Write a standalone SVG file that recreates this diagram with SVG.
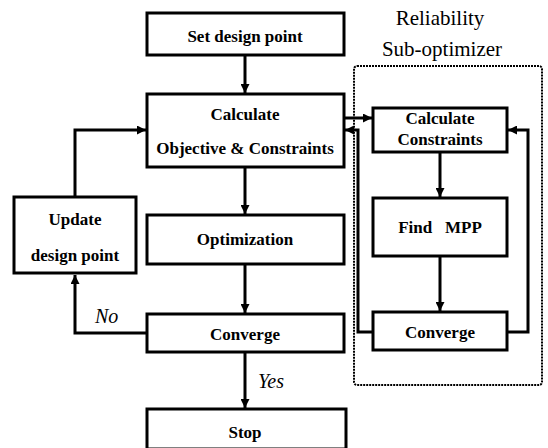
<svg xmlns="http://www.w3.org/2000/svg" width="548" height="448" viewBox="0 0 548 448">
<style>
.box{fill:#fff;stroke:#000;stroke-width:3}
text{font-family:"Liberation Serif","DejaVu Serif","Times New Roman",serif;fill:#000}
.t{font-weight:bold;font-size:17px;text-anchor:middle}
.lbl{font-style:italic;font-size:20px}
.title{font-size:21px;text-anchor:middle}
.c{fill:none;stroke:#000;stroke-width:3}
.dash{fill:none;stroke:#000;stroke-width:2;stroke-dasharray:2 1}
</style>
<defs>
<marker id="ah" viewBox="0 0 10 10" refX="10" refY="5" markerWidth="3" markerHeight="3" orient="auto" markerUnits="strokeWidth">
<path d="M0,0 L10,5 L0,10 z" fill="#000"/>
</marker>
</defs>
<rect width="548" height="448" fill="#fff"/>
<g id="subopt">
<rect class="dash" x="354" y="66" width="188" height="319" rx="3"/>
<text class="title" x="440" y="25" font-family="Liberation Serif, serif">Reliability</text>
<text class="title" x="442" y="56" font-family="Liberation Serif, serif">Sub-optimizer</text>
</g>
<g id="connectors">
<line class="c" x1="245" y1="55" x2="245" y2="93" marker-end="url(#ah)"/>
<line class="c" x1="245" y1="167" x2="245" y2="214" marker-end="url(#ah)"/>
<line class="c" x1="245" y1="264" x2="245" y2="313" marker-end="url(#ah)"/>
<line class="c" x1="245" y1="352" x2="245" y2="408" marker-end="url(#ah)"/>
<polyline class="c" points="147,333 75,333 75,275" marker-end="url(#ah)"/>
<polyline class="c" points="75,197 75,130 146,130" marker-end="url(#ah)"/>
<line class="c" x1="344" y1="118" x2="372" y2="118" marker-end="url(#ah)"/>
<polyline class="c" points="373,332 358,332 358,130 345,130" marker-end="url(#ah)"/>
<line class="c" x1="440" y1="152" x2="440" y2="197" marker-end="url(#ah)"/>
<line class="c" x1="440" y1="256" x2="440" y2="311" marker-end="url(#ah)"/>
<polyline class="c" points="507,332 528,332 528,130 508,130" marker-end="url(#ah)"/>
<text class="lbl" x="95" y="323">No</text>
<text class="lbl" x="258" y="388">Yes</text>
</g>
<g id="set">
<rect class="box" x="147" y="13" width="197" height="42"/>
<text class="t" x="245" y="42">Set design point</text>
</g>
<g id="calc">
<rect class="box" x="147" y="94" width="197" height="73"/>
<text class="t" x="245" y="120">Calculate</text>
<text class="t" x="245" y="154">Objective &amp; Constraints</text>
</g>
<g id="opt">
<rect class="box" x="147" y="215" width="197" height="49"/>
<text class="t" x="245" y="245">Optimization</text>
</g>
<g id="conv">
<rect class="box" x="147" y="314" width="197" height="38"/>
<text class="t" x="245" y="340">Converge</text>
</g>
<g id="stop">
<rect class="box" x="147" y="409" width="199" height="40"/>
<text class="t" x="245" y="438">Stop</text>
</g>
<g id="update">
<rect class="box" x="14" y="197" width="122" height="76"/>
<text class="t" x="75" y="225">Update</text>
<text class="t" x="75" y="261">design point</text>
</g>
<g id="calccon">
<rect class="box" x="373" y="108" width="134" height="44"/>
<text class="t" x="440" y="124">Calculate</text>
<text class="t" x="440" y="145">Constraints</text>
</g>
<g id="mpp">
<rect class="box" x="373" y="198" width="134" height="58"/>
<text class="t" x="440" y="233" style="white-space:pre">Find   MPP</text>
</g>
<g id="conv2">
<rect class="box" x="373" y="312" width="134" height="38"/>
<text class="t" x="440" y="338">Converge</text>
</g>
</svg>
